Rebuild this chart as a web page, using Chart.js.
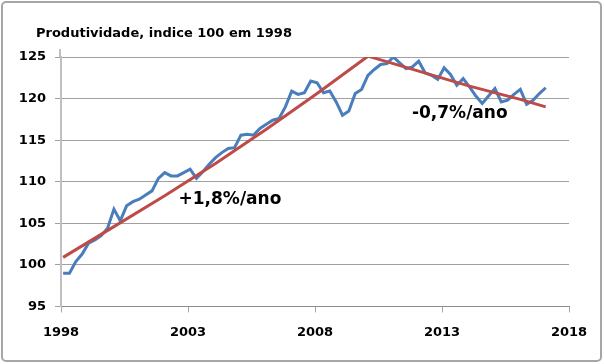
<!DOCTYPE html>
<html lang="pt">
<head>
    <meta charset="UTF-8">
    <title>Produtividade</title>
    <script src="https://cdn.jsdelivr.net/npm/chart.js"></script>
    <style>
        body {
            margin: 0;
            background: #ffffff;
        }

        .wrap {
            position: relative;
            width: 604px;
            height: 364px;
        }

        .frame {
            position: absolute;
            left: 1px;
            top: 1px;
            right: 2px;
            bottom: 2px;
            border: 2px solid #a6a6a6;
            border-radius: 5px;
            pointer-events: none;
        }
    </style>
</head>
<body>
    <div class="wrap">
        <canvas id="chart" width="604" height="364"></canvas>
        <div class="frame"></div>
    </div>

    <script>
        // quarterly series, first quarter of 1998 to first quarter of 2017
        const firstYear = 1998 + 1 / 12;
        const productivity = [
            99.0, 99.0, 100.4, 101.3, 102.6, 103.0, 103.5, 104.4,
            106.7, 105.3, 107.1, 107.6, 107.9, 108.4, 108.9, 110.4,
            111.1, 110.7, 110.7, 111.1, 111.5, 110.4, 111.2, 112.1,
            112.9, 113.5, 114.0, 114.1, 115.6, 115.7, 115.6, 116.4,
            116.9, 117.4, 117.6, 119.0, 120.9, 120.5, 120.7, 122.1,
            121.9, 120.7, 120.9, 119.6, 118.0, 118.5, 120.6, 121.1,
            122.8, 123.5, 124.1, 124.2, 125.0, 124.3, 123.6, 123.8,
            124.5, 123.1, 122.8, 122.3, 123.7, 122.9, 121.6, 122.4,
            121.4, 120.3, 119.4, 120.3, 121.2, 119.6, 119.8, 120.5,
            121.1, 119.3, 119.8, 120.6, 121.3
        ];

        // trend lines
        const trendYears = [1998.083, 2000.083, 2002.083, 2004.083, 2006.083, 2008.083, 2010.083, 2012.083, 2014.083, 2016.083, 2017.083];
        const trendValues = [100.9, 104.6, 108.3, 112.2, 116.3, 120.6, 125.1, 123.3, 121.5, 119.9, 119.0];

        const xTicks = [1998, 2003, 2008, 2013, 2018];
        const yTicks = [95, 100, 105, 110, 115, 120, 125];

        const titleText = 'Produtividade, indice 100 em 1998';
        const notes = [
            { text: '+1,8%/ano', year: 2004.65, value: 107.8 },
            { text: '-0,7%/ano', year: 2013.7, value: 118.2 }
        ];

        const fontFamily = '"DejaVu Sans", Verdana, sans-serif';

        const seriesPoints = productivity.map((v, i) => ({ x: firstYear + i / 4, y: v }));
        const trendPoints = trendYears.map((yr, i) => ({ x: yr, y: trendValues[i] }));

        // title at the top left, y axis stub above the plot, growth rate labels
        const notesPlugin = {
            id: 'notes',
            beforeDatasetsDraw(chart) {
                const ctx = chart.ctx;
                const area = chart.chartArea;
                ctx.save();
                ctx.strokeStyle = '#c0c0c0';
                ctx.lineWidth = 2;
                ctx.beginPath();
                ctx.moveTo(area.left - 1, area.top - 8);
                ctx.lineTo(area.left - 1, area.top);
                ctx.stroke();
                ctx.restore();
            },
            afterDatasetsDraw(chart) {
                const ctx = chart.ctx;
                const xs = chart.scales.x;
                const ys = chart.scales.y;
                ctx.save();
                ctx.fillStyle = '#000000';
                ctx.textBaseline = 'middle';

                ctx.font = 'bold 13px ' + fontFamily;
                ctx.textAlign = 'left';
                ctx.fillText(titleText, 36, 34);

                ctx.font = 'bold 17px ' + fontFamily;
                ctx.textAlign = 'center';
                notes.forEach(n => {
                    ctx.fillText(n.text, xs.getPixelForValue(n.year), ys.getPixelForValue(n.value));
                });
                ctx.restore();
            }
        };

        new Chart(document.getElementById('chart'), {
            type: 'line',
            data: {
                datasets: [
                    {
                        label: 'Tendência',
                        data: trendPoints,
                        borderColor: '#be4b48',
                        borderWidth: 3,
                        pointRadius: 0,
                        tension: 0,
                        order: 1
                    },
                    {
                        label: 'Produtividade',
                        data: seriesPoints,
                        borderColor: '#4a7ebb',
                        borderWidth: 3,
                        pointRadius: 0,
                        tension: 0,
                        order: 2
                    }
                ]
            },
            options: {
                responsive: false,
                animation: false,
                layout: {
                    padding: { top: 57, left: 18, right: 35, bottom: 12 }
                },
                plugins: {
                    legend: { display: false },
                    tooltip: { enabled: false },
                    title: { display: false }
                },
                scales: {
                    x: {
                        type: 'linear',
                        min: xTicks[0],
                        max: xTicks[xTicks.length - 1],
                        afterBuildTicks: scale => {
                            scale.ticks = xTicks.map(v => ({ value: v }));
                        },
                        ticks: {
                            callback: v => String(v),
                            color: '#000000',
                            padding: 12,
                            maxRotation: 0,
                            font: { family: fontFamily, size: 13, weight: 'bold' }
                        },
                        grid: {
                            drawOnChartArea: false,
                            drawTicks: true,
                            tickLength: 6,
                            color: '#a6a6a6'
                        },
                        border: { color: '#8c8c8c', width: 1 }
                    },
                    y: {
                        min: yTicks[0],
                        max: yTicks[yTicks.length - 1],
                        afterBuildTicks: scale => {
                            scale.ticks = yTicks.map(v => ({ value: v }));
                        },
                        afterFit: scale => {
                            scale.width = 43;
                        },
                        ticks: {
                            color: '#000000',
                            padding: 9,
                            font: { family: fontFamily, size: 13, weight: 'bold' }
                        },
                        grid: {
                            color: '#a0a0a0',
                            tickLength: 6
                        },
                        border: { color: '#c0c0c0', width: 2 }
                    }
                }
            },
            plugins: [notesPlugin]
        });
    </script>
</body>
</html>
